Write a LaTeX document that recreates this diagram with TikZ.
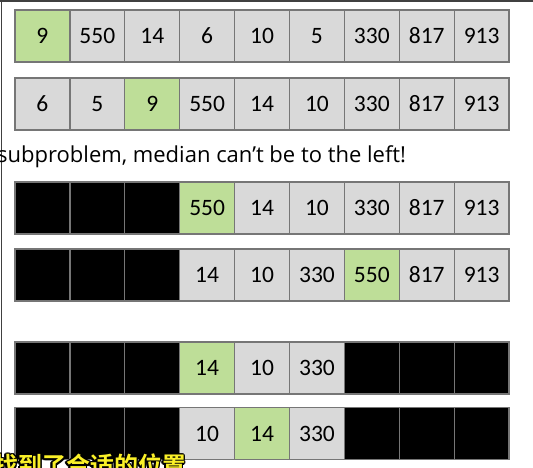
\documentclass[tikz,border=0pt]{standalone}
\usepackage{fontspec}
\setmainfont{Carlito}
\newfontfamily\notefont{Open Sans}
\newfontfamily\cjkfont{Noto Sans CJK SC Bold}
\usepackage[copies]{contour}
\contourlength{1.6pt}
\contournumber{12}
\definecolor{cellgray}{RGB}{217,217,217}
\definecolor{cellborder}{RGB}{118,118,118}
\definecolor{pivotgreen}{RGB}{190,222,152}
\definecolor{subyellow}{RGB}{250,240,40}
\tikzset{
  cell/.style={draw=cellborder, line width=1.3pt, minimum width=54.9pt, minimum height=52pt,
    inner sep=0pt, font=\fontsize{23.5}{23.5}\selectfont},
  plain/.style={cell, fill=cellgray},
  pivot/.style={cell, fill=pivotgreen},
  gone/.style={cell, fill=black},
}
\begin{document}
\begin{tikzpicture}[x=1pt, y=-1pt]
	\useasboundingbox (0,0) rectangle (533,467);
	\begin{scope}
	\clip (0,0) rectangle (533,467);
	% screen frame
	\coordinate (tl) at (0,1);
	\coordinate (tr) at (533,1);
	\coordinate (bl) at (1.5,467);
	\draw[color=black!75, line width=1.5pt] (tr) -- (tl) ++(1.5,0) -- (bl);
	% the rows of the array
	\foreach \r/\y/\cells in {
	  1/36/{pivot/9,plain/550,plain/14,plain/6,plain/10,plain/5,plain/330,plain/817,plain/913},
	  2/104/{plain/6,plain/5,pivot/9,plain/550,plain/14,plain/10,plain/330,plain/817,plain/913},
	  3/208/{gone/,gone/,gone/,pivot/550,plain/14,plain/10,plain/330,plain/817,plain/913},
	  4/275/{gone/,gone/,gone/,plain/14,plain/10,plain/330,pivot/550,plain/817,plain/913},
	  5/368/{gone/,gone/,gone/,pivot/14,plain/10,plain/330,gone/,gone/,gone/},
	  6/433.5/{gone/,gone/,gone/,plain/10,pivot/14,plain/330,gone/,gone/,gone/}}
	  \foreach [count=\c] \s/\t in \cells
	    \node[\s] (r\r c\c) at ({15+54.9*(\c-0.5)},\y) {\t};
	\node[anchor=west, inner sep=0pt, font=\notefont\fontsize{22}{22}\selectfont] (note) at (-3,157) {subproblem, median can’t be to the left!};
	% subtitle
	\node[anchor=north west, inner sep=0pt, font=\cjkfont\fontsize{24}{24}\selectfont] (sub) at (-6,454) {\contour{black}{\textcolor{subyellow}{找到了合适的位置}}};
	\end{scope}
\end{tikzpicture}
\end{document}
